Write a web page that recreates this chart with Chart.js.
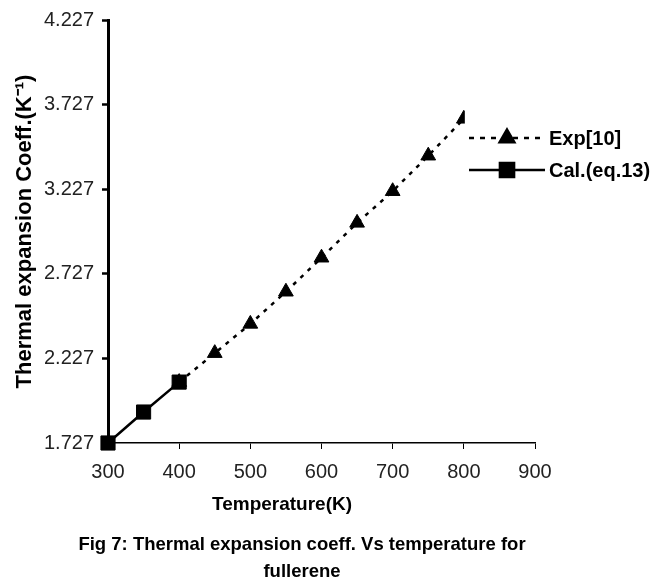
<!DOCTYPE html>
<html>
<head>
<meta charset="utf-8">
<script src="https://cdn.jsdelivr.net/npm/chart.js@4/dist/chart.umd.min.js"></script>
<style>
  html, body { margin: 0; padding: 0; background: #fff; }
</style>
</head>
<body>
<canvas id="canvas" width="668" height="583"></canvas>
<script>
const calTemps = [300, 350, 400]
const calValues = [1.727, 1.91, 2.087]
const expTemps = [400, 450, 500, 550, 600, 650, 700, 750, 800]
const expValues = [2.087, 2.258, 2.431, 2.621, 2.822, 3.028, 3.215, 3.425, 3.643]
const xTicks = [300, 400, 500, 600, 700, 800, 900]
const yTicks = [1.727, 2.227, 2.727, 3.227, 3.727, 4.227]
const seriesNames = ['Exp[10]', 'Cal.(eq.13)']
const xTitle = 'Temperature(K)'
const yTitle = 'Thermal expansion Coeff.(K\u207B\u00B9)'
const caption = ['Fig 7: Thermal expansion coeff. Vs temperature for', 'fullerene']

const family = "'Liberation Sans', Arial, sans-serif"

// legend, x title and caption are drawn by hand (the legend box is white
// and sits over the last point, like in the original figure)
const extras = {
    id: 'extras',
    afterDatasetsDraw(chart) {
        const ctx = chart.ctx
        const xs = chart.scales.x
        const boxLeft = xs.getPixelForValue(800) + 1
        ctx.save()
        ctx.fillStyle = '#fff'
        ctx.fillRect(boxLeft, 100, chart.width - boxLeft, 90)

        const rows = [138, 170]
        chart.data.datasets.forEach((ds, i) => {
            const y = rows[i]
            ctx.strokeStyle = '#000'
            ctx.fillStyle = '#000'
            ctx.lineWidth = ds.borderWidth
            ctx.setLineDash(ds.borderDash ? [5, 6] : [])
            ctx.beginPath()
            ctx.moveTo(469, y)
            ctx.lineTo(545, y)
            ctx.stroke()
            ctx.setLineDash([])
            Chart.helpers.drawPoint(ctx, {
                pointStyle: ds.pointStyle,
                radius: ds.pointRadius,
                rotation: 0,
                borderWidth: 1
            }, 507, y)
            ctx.font = 'bold 20px ' + family
            ctx.textAlign = 'left'
            ctx.textBaseline = 'middle'
            ctx.fillText(seriesNames[i], 549, y + 1)
        })

        ctx.fillStyle = '#000'
        ctx.textAlign = 'center'
        ctx.textBaseline = 'middle'
        ctx.font = 'bold 19px ' + family
        ctx.fillText(xTitle, 282, 505)
        ctx.font = 'bold 18.5px ' + family
        ctx.fillText(caption[0], 302, 545)
        ctx.fillText(caption[1], 302, 572)
        ctx.restore()
    }
}

const data = {
    datasets: [
        {
            label: seriesNames[0],
            data: expTemps.map((t, i) => ({ x: t, y: expValues[i] })),
            borderColor: '#000',
            backgroundColor: '#000',
            borderWidth: 2.5,
            borderDash: [4, 6],
            pointStyle: 'triangle',
            pointRadius: 8.5,
            pointBorderWidth: 1,
            clip: false,
            order: 1,
        },
        {
            label: seriesNames[1],
            data: calTemps.map((t, i) => ({ x: t, y: calValues[i] })),
            borderColor: '#000',
            backgroundColor: '#000',
            borderWidth: 2.5,
            pointStyle: 'rect',
            pointRadius: 10,
            pointBorderWidth: 1,
            clip: false,
            order: 0,
        }
    ]
}

const config = {
    type: 'line',
    data: data,
    options: {
        responsive: false,
        animation: false,
        layout: { padding: { left: 0, top: 19, right: 133, bottom: 0 } },
        plugins: {
            legend: { display: false },
            tooltip: { enabled: false }
        },
        scales: {
            x: {
                type: 'linear',
                min: 300,
                max: 900,
                afterBuildTicks: s => { s.ticks = xTicks.map(v => ({ value: v })) },
                afterFit: s => { s.height = 140 },
                grid: { drawOnChartArea: false, tickLength: 6, tickColor: '#000', tickWidth: 1 },
                border: { color: '#000', width: 1.5 },
                ticks: { padding: 11, color: '#222', font: { family: family, size: 20 } }
            },
            y: {
                min: 1.727,
                max: 4.227,
                afterBuildTicks: s => { s.ticks = yTicks.map(v => ({ value: v })) },
                afterFit: s => { s.width = 108 },
                grid: { drawOnChartArea: false, tickLength: 6, tickColor: '#000', tickWidth: 2.5 },
                border: { color: '#000', width: 3 },
                ticks: {
                    padding: 8,
                    color: '#222',
                    font: { family: family, size: 20 },
                    callback: v => Number(v).toFixed(3)
                },
                title: {
                    display: true,
                    text: yTitle,
                    color: '#000',
                    padding: { top: 12, bottom: 0 },
                    font: { family: family, size: 22, weight: 'bold' }
                }
            }
        }
    },
    plugins: [extras]
}

const canvas = document.getElementById('canvas')
const chart = new Chart(canvas, config)
</script>
</body>
</html>
